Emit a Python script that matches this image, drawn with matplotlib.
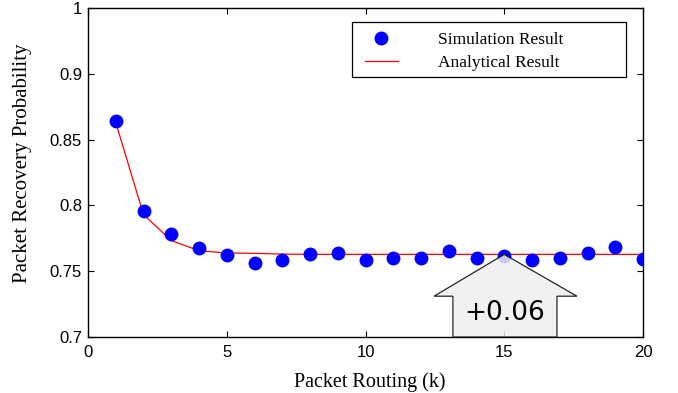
import matplotlib
matplotlib.use("Agg")
import matplotlib.pyplot as plt
from matplotlib.patches import Polygon, Rectangle

k = list(range(1, 21))
simulation = [0.8644, 0.7956, 0.7779, 0.7677, 0.7623, 0.7559, 0.7587, 0.7633, 0.7638, 0.7587,
              0.7602, 0.7602, 0.7656, 0.7597, 0.7618, 0.7587, 0.7602, 0.7638, 0.7682, 0.7592]
analytical = [0.8630, 0.7930, 0.7733, 0.7656, 0.7638, 0.7636, 0.7630, 0.7628, 0.7628, 0.7628,
              0.7628, 0.7628, 0.7628, 0.7628, 0.7628, 0.7628, 0.7628, 0.7628, 0.7628, 0.7628]
yticks = [0.7, 0.75, 0.8, 0.85, 0.9, 0.95]
ytick_labels = ['0.7', '0.75', '0.8', '0.85', '0.9', '1']
xticks = [0, 5, 10, 15, 20]
annotation = '+0.06'

W, H = 678, 393
fig = plt.figure(figsize=(W / 100, H / 100), dpi=100)
ax = fig.add_axes([88 / W, (H - 337) / H, (643 - 88) / W, (337 - 8) / H])

ax.plot(k, simulation, 'o', color='#0000ff', markersize=10, markeredgewidth=0,
        label='Simulation Result', zorder=3)
ax.plot(k, analytical, '-', color='#ff0000', linewidth=0.9, label='Analytical Result', zorder=2)

ax.set_xlim(0, 20)
ax.set_ylim(0.7, 0.95)
ax.set_xticks(xticks)
ax.set_yticks(yticks)
ax.set_yticklabels(ytick_labels)
ax.tick_params(direction='in', top=True, right=True, length=4, width=0.8, labelsize=12)
ax.tick_params(axis='y', pad=4.3)
ax.tick_params(axis='x', pad=6)
for lab in ax.get_xticklabels() + ax.get_yticklabels():
    lab.set_fontfamily('Liberation Sans')
for s in ax.spines.values():
    s.set_linewidth(1.0)

ax.set_xlabel('Packet Routing (k)', fontfamily='Liberation Serif', fontsize=14.5)
ax.xaxis.set_label_coords(0.508, -0.108)
ax.set_ylabel('Packet Recovery Probability', fontfamily='Liberation Serif', fontsize=15)
ax.yaxis.set_label_coords(-0.1, 0.527)

# legend frame drawn in figure coordinates
frame = Rectangle((352 / W, (H - 77) / H), (626 - 352) / W, (77 - 22) / H,
                  transform=fig.transFigure, facecolor='white', edgecolor='black',
                  linewidth=0.9, zorder=6, clip_on=False)
ax.add_patch(frame)
leg = ax.legend(loc='center left', bbox_to_anchor=(365 / W, (H - 51.4) / H),
                bbox_transform=fig.transFigure, frameon=False,
                prop={'family': 'Liberation Serif', 'size': 12.5},
                handlelength=1.9, handletextpad=2.3, borderpad=0, labelspacing=0.35,
                borderaxespad=0)
leg.set_zorder(7)

# block arrow
tip_y = analytical[14]
arrow = Polygon([(13.15, 0.7), (13.15, 0.731), (12.47, 0.731), (15, tip_y),
                 (17.62, 0.731), (16.9, 0.731), (16.9, 0.7)],
                closed=True, facecolor='#efefef', edgecolor='black', linewidth=0.9,
                alpha=0.85, zorder=4, clip_on=False)
ax.add_patch(arrow)
ax.text(15, 0.718, annotation, ha='center', va='center', fontsize=19,
        fontfamily='DejaVu Sans', zorder=5)

fig.savefig('out.png', dpi=100)
